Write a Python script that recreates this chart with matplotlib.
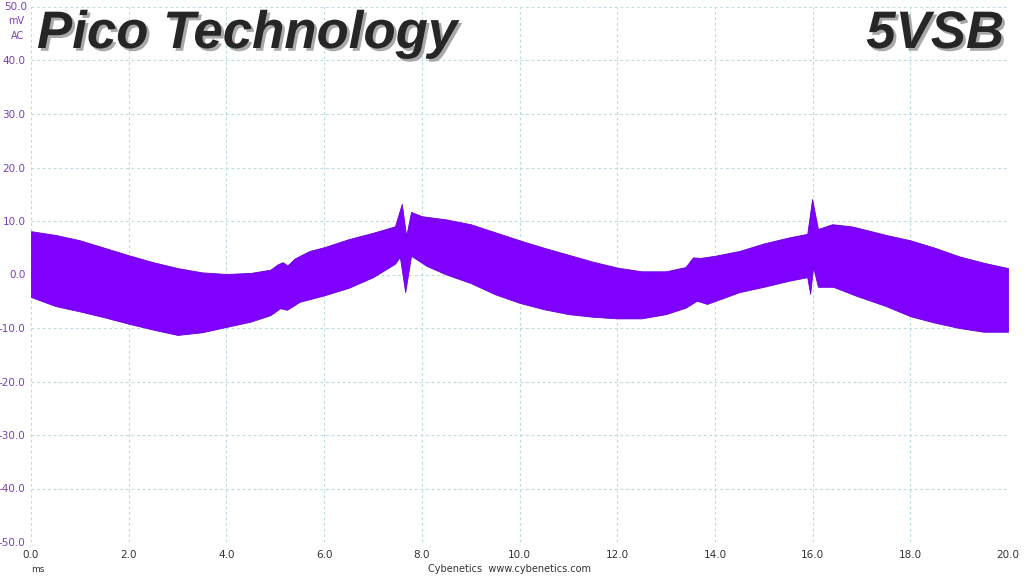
import matplotlib
matplotlib.use('Agg')
import matplotlib.pyplot as plt
import matplotlib.patheffects as pe
import numpy as np

# envelope of the ripple trace (ms, mV)
upper_t = [0.0, 0.5, 1.0, 1.5, 2.0, 2.5, 3.0, 3.5, 4.0, 4.5, 4.9, 5.05,
           5.15, 5.25, 5.4, 5.7, 6.0, 6.5, 7.0, 7.45, 7.59, 7.68, 7.78,
           8.0, 8.5, 9.0, 9.5, 10.0, 10.5, 11.0, 11.5, 12.0, 12.5, 13.0,
           13.4, 13.55, 13.7, 14.0, 14.5, 15.0, 15.5, 15.89, 15.99, 16.11,
           16.4, 16.8, 17.2, 17.5, 18.0, 18.5, 19.0, 19.5, 20.0]
upper_mv = [8.1, 7.4, 6.4, 5.0, 3.6, 2.3, 1.2, 0.4, 0.1, 0.3, 0.9, 1.9,
            2.3, 1.7, 3.0, 4.4, 5.1, 6.6, 7.8, 9.0, 13.2, 7.2, 11.7,
            10.9, 10.3, 9.4, 7.9, 6.4, 5.0, 3.7, 2.4, 1.3, 0.6, 0.6,
            1.4, 3.2, 3.1, 3.5, 4.4, 5.8, 6.9, 7.6, 14.1, 8.5,
            9.4, 9.0, 8.1, 7.4, 6.4, 5.0, 3.4, 2.2, 1.2]

lower_t = [0.0, 0.5, 1.0, 1.5, 2.0, 2.5, 3.0, 3.5, 4.0, 4.5, 4.9, 5.1,
           5.24, 5.5, 6.0, 6.5, 7.0, 7.45, 7.55, 7.66, 7.78, 8.1, 8.5,
           9.0, 9.5, 10.0, 10.5, 11.0, 11.5, 12.0, 12.5, 13.0, 13.4, 13.63,
           13.84, 14.5, 15.0, 15.5, 15.89, 15.95, 16.01, 16.11, 16.42, 16.9,
           17.5, 18.0, 18.5, 19.0, 19.5, 20.0]
lower_mv = [-4.2, -5.9, -6.9, -8.0, -9.2, -10.3, -11.3, -10.8, -9.8, -8.8,
            -7.6, -6.3, -6.6, -5.1, -3.9, -2.5, -0.5, 2.0, 3.3, -3.3, 3.5,
            1.6, 0.0, -1.6, -3.7, -5.3, -6.5, -7.4, -7.9, -8.2, -8.2, -7.4,
            -6.2, -4.9, -5.5, -3.3, -2.3, -1.2, -0.5, -3.6, 1.4, -2.3, -2.3,
            -4.0, -5.9, -7.8, -9.0, -10.0, -10.7, -10.7]

x_ticks = [0, 2, 4, 6, 8, 10, 12, 14, 16, 18, 20]
y_ticks = [-50, -40, -30, -20, -10, 0, 10, 20, 30, 40, 50]

trace_color = '#7f00ff'
grid_color = '#b8dcdf'
label_purple = '#7a3fb0'

fig = plt.figure(figsize=(10.24, 5.76), dpi=100)
ax = fig.add_axes([31 / 1024, 1 - 542 / 576, 977 / 1024, 535 / 576])

# common time base so the band can be filled between both edges
t = np.union1d(upper_t, lower_t)
ax.fill_between(t, np.interp(t, lower_t, lower_mv),
                np.interp(t, upper_t, upper_mv),
                color=trace_color, linewidth=0.6, edgecolor='#6a00d8')

ax.set_xlim(0, 20)
ax.set_ylim(-50, 50)
ax.set_xticks(x_ticks)
ax.set_yticks(y_ticks)
ax.set_xticklabels(['{:.1f}'.format(v) for v in x_ticks],
                   fontsize=7.5, color='#333333')
ax.set_yticklabels(['{:.1f}'.format(v) if v != 50 else '' for v in y_ticks],
                   fontsize=7.5, color=label_purple)
ax.tick_params(length=0, pad=4)
ax.tick_params(axis='x', pad=6)
for s in ax.spines.values():
    s.set_visible(False)
ax.grid(True, color=grid_color, linestyle=(0, (2.5, 2.5)), linewidth=0.8)
ax.set_axisbelow(True)

# unit labels stacked under the top tick, like the scope software does
fig.text(27 / 1024, 1 - 7 / 576, '50.0', ha='right', va='center',
         fontsize=7.5, color=label_purple)
fig.text(24 / 1024, 1 - 21 / 576, 'mV', ha='right', va='center',
         fontsize=7, color=label_purple)
fig.text(24 / 1024, 1 - 36 / 576, 'AC', ha='right', va='center',
         fontsize=7, color=label_purple)

fig.text(38 / 1024, 1 - 570 / 576, 'ms', ha='center', va='center',
         fontsize=6.5, color='#333333')
fig.text(510 / 1024, 1 - 569 / 576, 'Cybenetics  www.cybenetics.com',
         ha='center', va='center', fontsize=7, color='#333333')

title_fx = [pe.SimplePatchShadow(offset=(2, -2), shadow_rgbFace='#9a9a9a',
                                 alpha=0.85),
            pe.Normal()]
fig.text(37 / 1024, 1 - 48 / 576, 'Pico Technology', ha='left',
         va='baseline', fontsize=38, fontweight='bold', fontstyle='italic',
         family='Liberation Sans', color='#262626', path_effects=title_fx)
fig.text(1004 / 1024, 1 - 48 / 576, '5VSB', ha='right', va='baseline',
         fontsize=38, fontweight='bold', fontstyle='italic',
         family='Liberation Sans', color='#262626', path_effects=title_fx)

fig.savefig('out.png', dpi=100)
